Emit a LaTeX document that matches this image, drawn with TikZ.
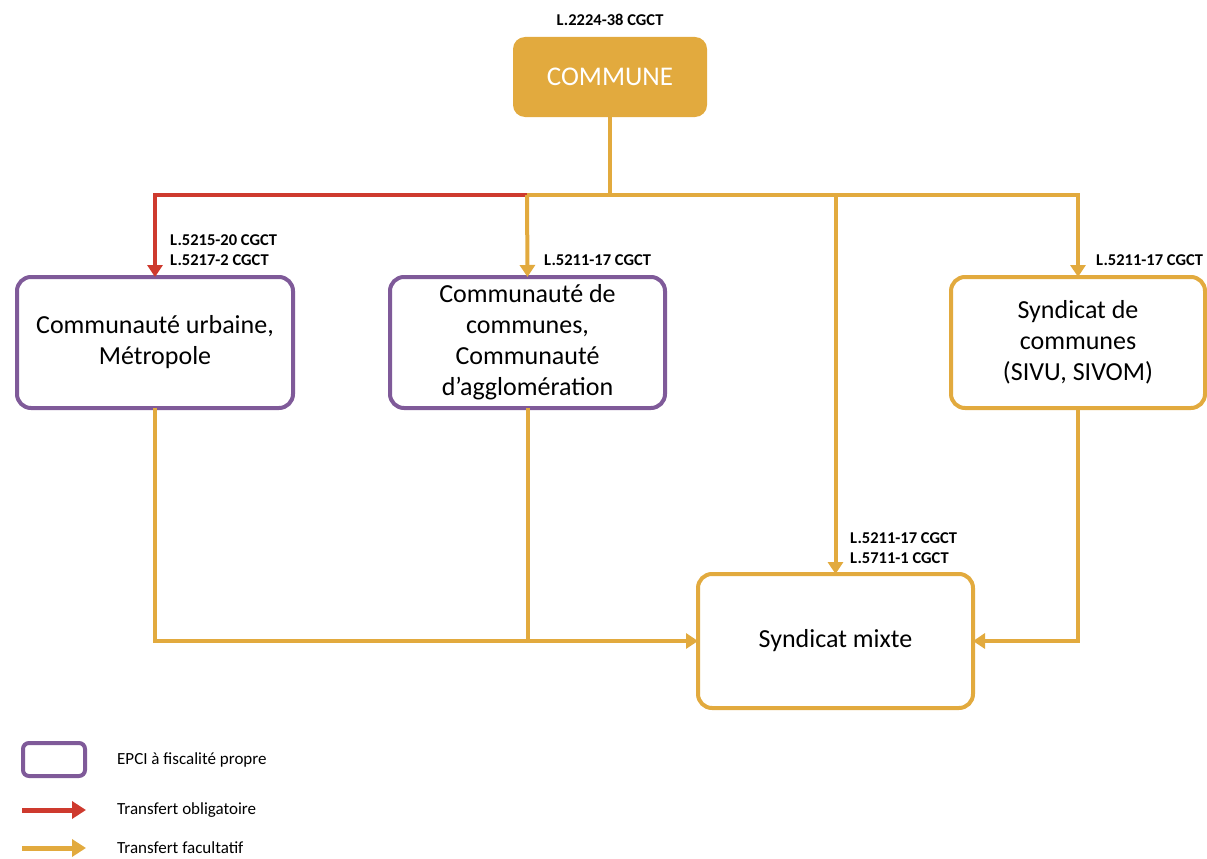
\documentclass[tikz,border=0pt]{standalone}
\usepackage{fontspec}
\setmainfont{Carlito}
\usetikzlibrary{arrows.meta}
\definecolor{gold}{HTML}{E2AA3E}
\definecolor{epcipurple}{HTML}{7F5A99}
\definecolor{obligred}{HTML}{CE3A2E}
\begin{document}
\begin{tikzpicture}[x=1pt,y=-1pt,
  box/.style={draw, line width=4pt, rounded corners=14pt, align=center, fill=white,
    inner sep=0pt, outer sep=0pt, font=\fontsize{26}{31}\selectfont},
  epci/.style={box, draw=epcipurple},
  synd/.style={box, draw=gold},
  lbl/.style={font=\bfseries\fontsize{16.5}{20}\selectfont, anchor=west, align=left, inner sep=0pt},
  legtxt/.style={font=\fontsize{17}{20}\selectfont, anchor=west, inner sep=0pt},
  conn/.style={line width=4pt, draw=gold},
  redconn/.style={line width=4pt, draw=obligred},
  arr/.style={-{Triangle[width=15pt,length=12pt]}}
]
\useasboundingbox (0,0) rectangle (1207,859);

% top node
\node[fill=gold, rounded corners=12pt, minimum width=194pt, minimum height=80pt,
  inner sep=0pt, outer sep=0pt, text=white, font=\fontsize{27}{30}\selectfont]
  (commune) at (610,77) {COMMUNE};
\node[font=\bfseries\fontsize{16.5}{20}\selectfont, inner sep=0pt] (lcom) at (610,20) {L.2224-38 CGCT};

% boxes
\node[epci, minimum width=276pt, minimum height=131pt] (b1) at (155,342.5)
  {Communauté urbaine,\\Métropole};
\node[epci, minimum width=275pt, minimum height=131pt] (b2) at (527.5,342.5)
  {Communauté de\\communes,\\Communauté\\d’agglomération};
\node[synd, minimum width=254pt, minimum height=131pt] (b4) at (1078,342.5)
  {Syndicat de\\communes\\(SIVU, SIVOM)};
\node[synd, minimum width=275pt, minimum height=134pt] (b5) at (835.5,641)
  {Syndicat mixte};

% junctions
\coordinate (j) at (610,195);
\coordinate (jr) at (527,195);
\coordinate (jm) at (835.5,195);

% connectors
\draw[conn] (commune.south) -- (j);
\draw[redconn, arr] (jr) -| (b1.north);
\draw[conn, arr] (jr) -- (b2.north);
\draw[conn, arr] (jr) -| (b4.north);
\draw[conn, arr] (jm) -- (b5.north);
\draw[conn, arr] (b1.south) |- (b5.west);
\draw[conn] (b2.south) -- (b2.south |- b5.west);
\draw[conn, arr] (b4.south) |- (b5.east);

% labels
\node[lbl] (l1) at (170,250.5) {L.5215-20 CGCT\\L.5217-2 CGCT};
\node[lbl] (l2) at (544,260) {L.5211-17 CGCT};
\node[lbl] (l4) at (1096,260) {L.5211-17 CGCT};
\node[lbl] (l5) at (850,548) {L.5211-17 CGCT\\L.5711-1 CGCT};

% legend
\node[draw=epcipurple, line width=4pt, rounded corners=6pt, minimum width=62pt,
  minimum height=33pt, inner sep=0pt, outer sep=0pt] (leg1) at (54,759.5) {};
\node[legtxt] (lt1) at (117,760) {EPCI à fiscalité propre};
\coordinate (ra) at (22,810);
\coordinate (rb) at (86,810);
\draw[line width=5pt, draw=obligred, -{Triangle[width=17pt,length=14pt]}] (ra) -- (rb);
\node[legtxt] (lt2) at (117,810) {Transfert obligatoire};
\coordinate (ga) at (22,848);
\coordinate (gb) at (86,848);
\draw[line width=5pt, draw=gold, -{Triangle[width=17pt,length=14pt]}] (ga) -- (gb);
\node[legtxt] (lt3) at (117,848) {Transfert facultatif};
\end{tikzpicture}
\end{document}
